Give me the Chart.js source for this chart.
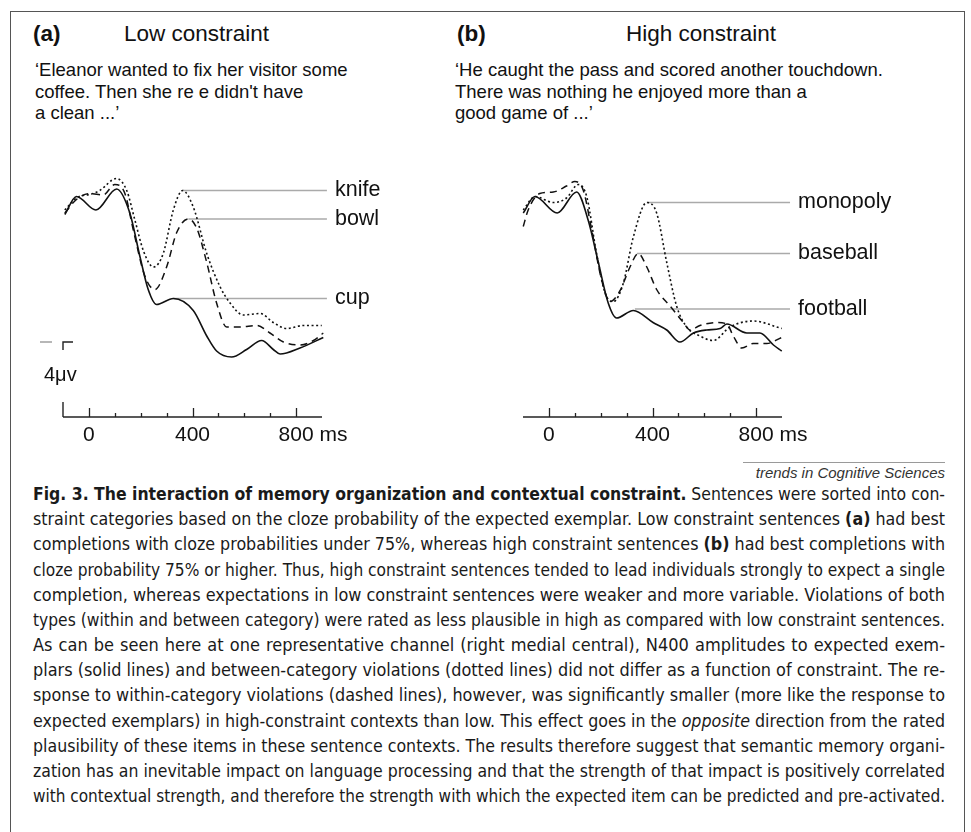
<!DOCTYPE html>
<html><head><meta charset="utf-8">
<script src="https://cdn.jsdelivr.net/npm/chart.js@4.4.1/dist/chart.umd.min.js"></script>
<style>
html,body{margin:0;padding:0;background:#fff;}
body{width:971px;height:832px;position:relative;overflow:hidden;font-family:"Liberation Sans",Arial,Helvetica,sans-serif;color:#111;}
#frame{position:absolute;left:10px;top:11px;width:955px;height:860px;border:1.5px solid #555;box-sizing:border-box;}
.t{position:absolute;white-space:nowrap;line-height:1;}
.hd{font-size:22.5px;}
.sent{position:absolute;font-size:18.5px;line-height:21.6px;white-space:nowrap;}
canvas{position:absolute;}
#trends{position:absolute;left:743px;width:202px;top:462px;border-top:1px solid #9a9a9a;font-style:italic;font-size:15px;color:#333;text-align:right;padding-top:2px;line-height:15px;white-space:nowrap;}
#caption{position:absolute;left:33px;top:481px;width:912px;font-family:"Liberation Sans Narrow","Arial Narrow","DejaVu Sans Condensed",sans-serif;font-size:18px;line-height:25.17px;color:#1a1a1a;}
#caption .ln{white-space:nowrap;width:912px;}
#caption .ln span{display:inline-block;white-space:nowrap;transform-origin:0 0;}
</style></head>
<body>
<div id="frame"></div>
<div class="t hd" style="left:33px;top:23px;font-weight:bold;">(a)</div>
<div class="t hd" style="left:124px;top:23px;">Low constraint</div>
<div class="t hd" style="left:457px;top:23px;font-weight:bold;">(b)</div>
<div class="t hd" style="left:626px;top:23px;">High constraint</div>
<div class="sent" style="left:35px;top:59px;">‘Eleanor wanted to fix her visitor some<br>coffee. Then she re e didn't have<br>a clean ...’</div>
<div class="sent" style="left:455px;top:59px;">‘He caught the pass and scored another touchdown.<br>There was nothing he enjoyed more than a<br>good game of ...’</div>
<canvas id="cA" width="420" height="310" style="left:20px;top:150px;width:420px;height:310px;"></canvas>
<canvas id="cB" width="480" height="310" style="left:480px;top:150px;width:480px;height:310px;"></canvas>
<div id="trends">trends in Cognitive Sciences</div>
<div id="caption"></div>
<script>
// ---- Data (time in ms, amplitude in µV; negative plotted up) ----
const tickTimes = [0,100,200,300,400,500,600,700,800];
const majorTicks = [0,400,800];
const tickLabels = ['0','400','800'];
const timeUnit = 'ms';
const calibLabel = '4μv';

// Panel (a) Low constraint
const lowExpected = [[-93,-8.5],[-48,-9.7],[27,-8.8],[107,-10.2],[158,-8.6],[197,-5.7],[229,-3.5],[261,-2.5],[326,-2.9],[403,-2.1],[455,-0.4],[493,0.6],[551,1.0],[609,0.5],[667,-0.1],[712,0.5],[738,0.8],[815,0.4],[905,-0.3]];
const lowWithin = [[-93,-8.6],[-48,-9.5],[4,-9.9],[55,-9.8],[100,-10.5],[139,-9.9],[171,-7.5],[216,-4.4],[255,-3.5],[300,-5.0],[339,-7.3],[384,-8.2],[416,-7.6],[455,-5.3],[493,-2.6],[532,-1.0],[583,-1.0],[648,-1.1],[699,-0.6],[751,0.0],[815,0.2],[867,-0.1],[905,-0.6]];
const lowBetween = [[-93,-8.8],[-48,-9.6],[17,-9.9],[42,-10.1],[107,-10.9],[146,-10.1],[178,-8.1],[210,-6.1],[249,-5.0],[287,-5.9],[326,-8.8],[362,-10.1],[403,-9.0],[455,-5.9],[506,-3.7],[545,-2.6],[596,-1.8],[661,-1.9],[712,-1.3],[764,-0.9],[828,-1.1],[899,-1.1]];
const lowWords = ['knife','bowl','cup'];
const lowLeaderStart = [362,384,326];
const lowLeaderAmp = [-10.1,-8.2,-2.9];
const lowLeaderEnd = 919;

// Panel (b) High constraint
const highExpected = [[-99,-8.6],[-54,-9.7],[32,-8.6],[107,-10.0],[152,-8.1],[191,-5.3],[229,-2.6],[261,-1.6],[326,-2.1],[402,-1.3],[455,-0.8],[506,0.0],[558,-0.6],[609,-0.8],[661,-0.9],[687,-1.2],[764,-0.6],[815,-0.6],[867,0.2],[899,0.6]];
const highWithin = [[-99,-7.7],[-80,-8.8],[-35,-9.9],[17,-10.0],[68,-10.4],[100,-10.7],[133,-10.1],[165,-7.5],[204,-4.1],[236,-2.7],[274,-3.4],[313,-5.0],[345,-5.9],[378,-5.0],[416,-3.5],[468,-2.4],[519,-1.3],[545,-0.8],[583,-1.1],[648,-1.3],[687,-1.2],[712,-0.4],[745,0.4],[789,0.1],[841,0.1],[899,-0.3]];
const highBetween = [[-99,-8.8],[-54,-9.7],[17,-9.3],[68,-9.6],[113,-10.5],[146,-9.7],[184,-5.9],[223,-3.0],[249,-2.7],[287,-3.9],[326,-7.0],[378,-9.3],[416,-8.6],[455,-5.3],[493,-2.4],[532,-1.0],[583,-0.4],[635,-0.1],[699,-1.0],[789,-1.4],[899,-0.9]];
const highWords = ['monopoly','baseball','football'];
const highLeaderStart = [378,340,332];
const highLeaderAmp = [-9.3,-5.9,-2.2];
const highLeaderEnd = 931;

const captionLines = [
 '<b>Fig. 3. The interaction of memory organization and contextual constraint.</b> Sentences were sorted into con-',
 'straint categories based on the cloze probability of the expected exemplar. Low constraint sentences <b>(a)</b> had best',
 'completions with cloze probabilities under 75%, whereas high constraint sentences <b>(b)</b> had best completions with',
 'cloze probability 75% or higher. Thus, high constraint sentences tended to lead individuals strongly to expect a single',
 'completion, whereas expectations in low constraint sentences were weaker and more variable. Violations of both',
 'types (within and between category) were rated as less plausible in high as compared with low constraint sentences.',
 'As can be seen here at one representative channel (right medial central), N400 amplitudes to expected exem-',
 'plars (solid lines) and between-category violations (dotted lines) did not differ as a function of constraint. The re-',
 'sponse to within-category violations (dashed lines), however, was significantly smaller (more like the response to',
 'expected exemplars) in high-constraint contexts than low. This effect goes in the <i>opposite</i> direction from the rated',
 'plausibility of these items in these sentence contexts. The results therefore suggest that semantic memory organi-',
 'zation has an inevitable impact on language processing and that the strength of that impact is positively correlated',
 'with contextual strength, and therefore the strength with which the expected item can be predicted and pre-activated.'
];

// ---- Caption with justified lines ----
const cap = document.getElementById('caption');
captionLines.forEach(h => {
  const d = document.createElement('div'); d.className = 'ln';
  const s = document.createElement('span'); s.innerHTML = h; d.appendChild(s); cap.appendChild(d);
});
cap.querySelectorAll('.ln span').forEach(s => {
  const W = 912;
  const nat = s.getBoundingClientRect().width;
  const spaces = (s.textContent.match(/ /g) || []).length;
  const ws = (W - nat) / spaces;
  if (ws >= 0) s.style.wordSpacing = ws + 'px';
  else s.style.transform = 'scaleX(' + (W / nat) + ')';
});

// ---- Charts ----
const pts = arr => arr.map(p => ({x: p[0], y: p[1]}));
function waveSets(expected, within, between, leadStart, leadAmp, leadEnd) {
  const sets = [
    {data: pts(expected), borderColor: '#111', borderWidth: 1.6, cubicInterpolationMode: 'monotone'},
    {data: pts(within), borderColor: '#111', borderWidth: 1.5, borderDash: [7, 5], cubicInterpolationMode: 'monotone'},
    {data: pts(between), borderColor: '#111', borderWidth: 1.6, borderDash: [2, 2.6], cubicInterpolationMode: 'monotone'}
  ];
  leadStart.forEach((t, i) => {
    sets.push({data: [{x: t, y: leadAmp[i]}, {x: leadEnd, y: leadAmp[i]}], borderColor: '#aaaaaa', borderWidth: 1.3});
  });
  sets.forEach(s => { s.pointRadius = 0; s.fill = false; s.clip = false; });
  return sets;
}

const axisPlugin = {
  id: 'erpAxes',
  afterDatasetsDraw(chart, args, o) {
    const ctx = chart.ctx, xs = chart.scales.x, ys = chart.scales.y;
    const yb = chart.chartArea.bottom;
    ctx.save();
    ctx.strokeStyle = '#222'; ctx.lineWidth = 1.5;
    ctx.beginPath(); ctx.moveTo(xs.getPixelForValue(-100), yb); ctx.lineTo(xs.getPixelForValue(900), yb); ctx.stroke();
    ctx.lineWidth = 1.3;
    tickTimes.forEach(t => {
      const px = Math.round(xs.getPixelForValue(t)) + 0.5;
      const len = majorTicks.includes(t) ? 9 : 4;
      ctx.beginPath(); ctx.moveTo(px, yb); ctx.lineTo(px, yb - len); ctx.stroke();
    });
    ctx.fillStyle = '#111'; ctx.font = '21px "Liberation Sans", Arial, sans-serif'; ctx.textBaseline = 'middle';
    majorTicks.forEach((t, i) => {
      const px = xs.getPixelForValue(t);
      ctx.textAlign = 'center'; ctx.fillText(tickLabels[i], px, yb + 18);
      if (i === majorTicks.length - 1) {
        const w = ctx.measureText(tickLabels[i]).width;
        ctx.textAlign = 'left'; ctx.fillText(' ' + timeUnit, px + w / 2, yb + 18);
      }
    });
    if (o.calib) {
      const x0 = xs.getPixelForValue(-100);
      const yTop = ys.getPixelForValue(0), yBot = ys.getPixelForValue(4);
      ctx.strokeStyle = '#222'; ctx.lineWidth = 1.4;
      ctx.beginPath(); ctx.moveTo(x0, yBot); ctx.lineTo(x0, yb); ctx.stroke();
      ctx.beginPath(); ctx.moveTo(x0, yTop + 8); ctx.lineTo(x0, yTop); ctx.lineTo(x0 + 10, yTop); ctx.stroke();
      ctx.strokeStyle = '#999';
      ctx.beginPath(); ctx.moveTo(x0 - 23, yTop); ctx.lineTo(x0 - 11, yTop); ctx.stroke();
      ctx.font = '20px "Liberation Sans", Arial, sans-serif'; ctx.textAlign = 'left';
      ctx.fillText(calibLabel, x0 - 19, ys.getPixelForValue(2.2));
    }
    ctx.font = '21.5px "Liberation Sans", Arial, sans-serif'; ctx.textAlign = 'left';
    o.words.forEach((w, i) => {
      ctx.fillText(w, xs.getPixelForValue(o.end) + 8, ys.getPixelForValue(o.amps[i]));
    });
    ctx.restore();
  }
};

function makeChart(id, sets, pad, words, amps, end, calib) {
  return new Chart(document.getElementById(id), {
    type: 'line',
    data: {datasets: sets},
    options: {
      responsive: false, animation: false, devicePixelRatio: 1,
      layout: {padding: pad},
      scales: {
        x: {type: 'linear', min: -100, max: 900, display: false},
        y: {type: 'linear', min: -12, max: 5, reverse: true, display: false}
      },
      plugins: {legend: {display: false}, tooltip: {enabled: false}, erpAxes: {words, amps, end, calib}},
      elements: {line: {tension: 0.4}}
    },
    plugins: [axisPlugin]
  });
}

makeChart('cA', waveSets(lowExpected, lowWithin, lowBetween, lowLeaderStart, lowLeaderAmp, lowLeaderEnd),
  {left: 43, right: 118, top: 12, bottom: 43}, lowWords, lowLeaderAmp, lowLeaderEnd, true);
makeChart('cB', waveSets(highExpected, highWithin, highBetween, highLeaderStart, highLeaderAmp, highLeaderEnd),
  {left: 43, right: 178, top: 12, bottom: 43}, highWords, highLeaderAmp, highLeaderEnd, false);
</script>
</body></html>
